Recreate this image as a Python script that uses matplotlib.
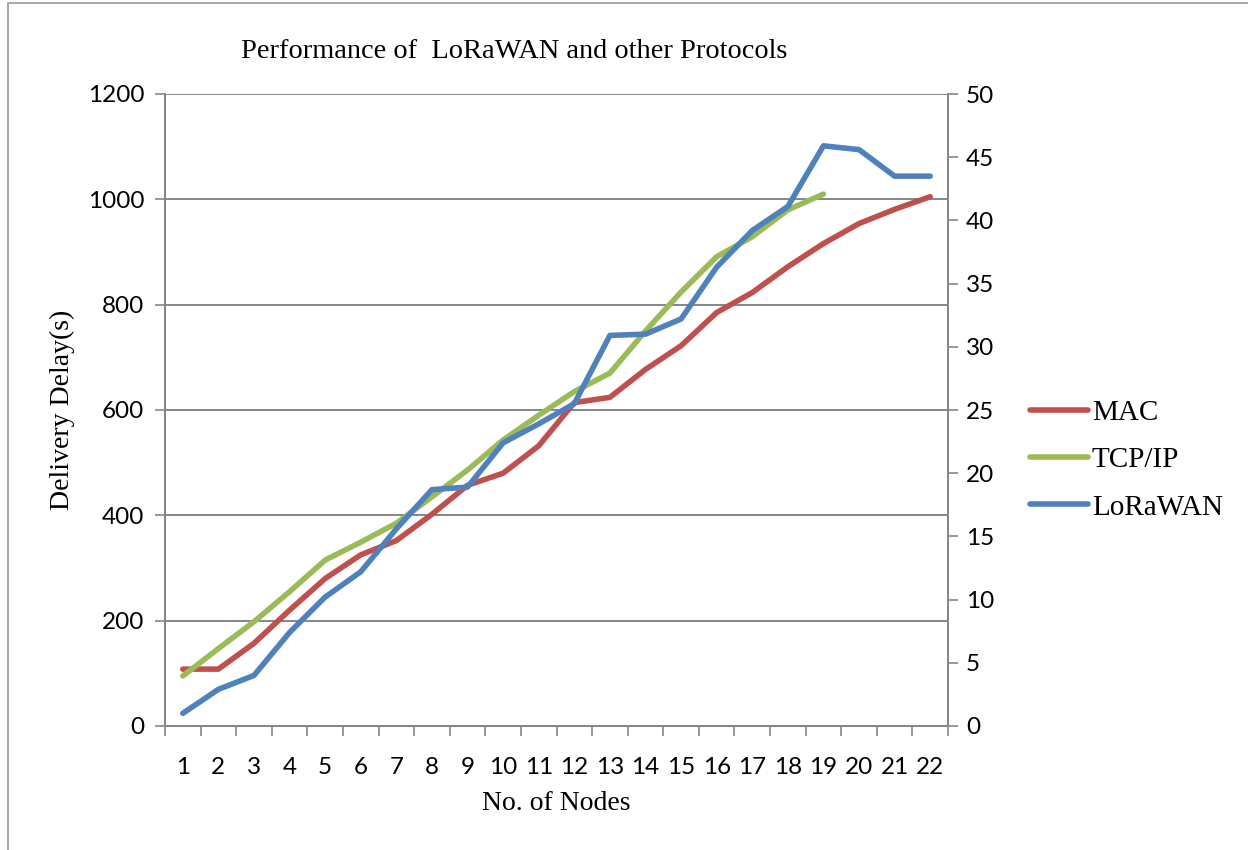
import matplotlib.pyplot as plt
import numpy as np
from matplotlib.patches import Rectangle

# data
nodes = list(range(1, 23))
mac = [108, 108, 157, 220, 280, 325, 352, 402, 457, 480, 532, 614, 624, 677,
       722, 785, 823, 872, 916, 954, 981, 1005]
tcp_ip = [95, 147, 198, 255, 315, 349, 385, 435, 486, 543, 590, 635, 670, 750,
          824, 891, 929, 980, 1010]
lorawan = [1.0, 2.9, 4.0, 7.4, 10.2, 12.2, 15.6, 18.7, 18.9, 22.4, 23.9, 25.5,
           30.9, 31.0, 32.2, 36.3, 39.2, 41.1, 45.9, 45.6, 43.5, 43.5]

left_ticks = [0, 200, 400, 600, 800, 1000, 1200]
right_ticks = [0, 5, 10, 15, 20, 25, 30, 35, 40, 45, 50]

red = "#C0504D"
green = "#9BBB59"
blue = "#4F81BD"
grey = "#868686"
serif = "Liberation Serif"
sans = "Lato"

fig = plt.figure(figsize=(12.48, 8.5), dpi=100)
ax = fig.add_axes([165 / 1248, 1 - 726 / 850, (948 - 165) / 1248, (726 - 94) / 850])
ax2 = ax.twinx()

lw = 4.0
l1, = ax.plot(nodes, mac, color=red, lw=lw, solid_capstyle="round", label="MAC")
l2, = ax.plot(nodes[:len(tcp_ip)], tcp_ip, color=green, lw=lw, solid_capstyle="round", label="TCP/IP")
l3, = ax2.plot(nodes, lorawan, color=blue, lw=lw, solid_capstyle="round", label="LoRaWAN")

ax.set_xlim(0.5, 22.5)
ax.set_ylim(0, 1200)
ax2.set_ylim(0, 50)
ax.set_yticks(left_ticks)
ax2.set_yticks(right_ticks)
ax.set_xticks(nodes)
ax.set_xticks(np.arange(0.5, 23, 1), minor=True)
ax.tick_params(axis="x", which="major", length=0, pad=22, labelsize=17.5)
ax.tick_params(axis="x", which="minor", length=7, width=1.2, color=grey, direction="out")
ax.tick_params(axis="y", length=7, width=1.2, color=grey, labelsize=17.5, pad=8)
ax2.tick_params(axis="y", length=7, width=1.2, color=grey, labelsize=17.5, pad=6)
for lab in ax.get_xticklabels() + ax.get_yticklabels() + ax2.get_yticklabels():
    lab.set_fontfamily(sans)

ax.yaxis.grid(True, color=grey, lw=1.4)
ax.set_axisbelow(True)
for a in (ax, ax2):
    a.spines["top"].set_visible(False)
    for s in ("left", "right", "bottom"):
        a.spines[s].set_color(grey)
        a.spines[s].set_linewidth(1.4)

fig.text(514 / 1248, 1 - 52 / 850, "Performance of  LoRaWAN and other Protocols",
         ha="center", va="center", fontsize=20.4, family=serif)
fig.text(62 / 1248, 1 - 410 / 850, "Delivery Delay(s)", rotation=90,
         ha="center", va="center", fontsize=20, family=serif)
fig.text(556 / 1248, 1 - 803 / 850, "No. of Nodes",
         ha="center", va="center", fontsize=20, family=serif)

fig.legend(handles=[l1, l2, l3], loc="center left", bbox_to_anchor=(1030 / 1248, 1 - 460 / 850),
           frameon=False, prop={"family": serif, "size": 21}, handlelength=2.0,
           handletextpad=0.12, labelspacing=0.72, borderpad=0, borderaxespad=0)

fig.patches.append(Rectangle((8 / 1248, -0.01), 1.02, 1 - 3 / 850 + 0.01, transform=fig.transFigure,
                             fill=False, edgecolor="#9a9a9a", lw=1.2))

fig.savefig("out.png", dpi=100)
